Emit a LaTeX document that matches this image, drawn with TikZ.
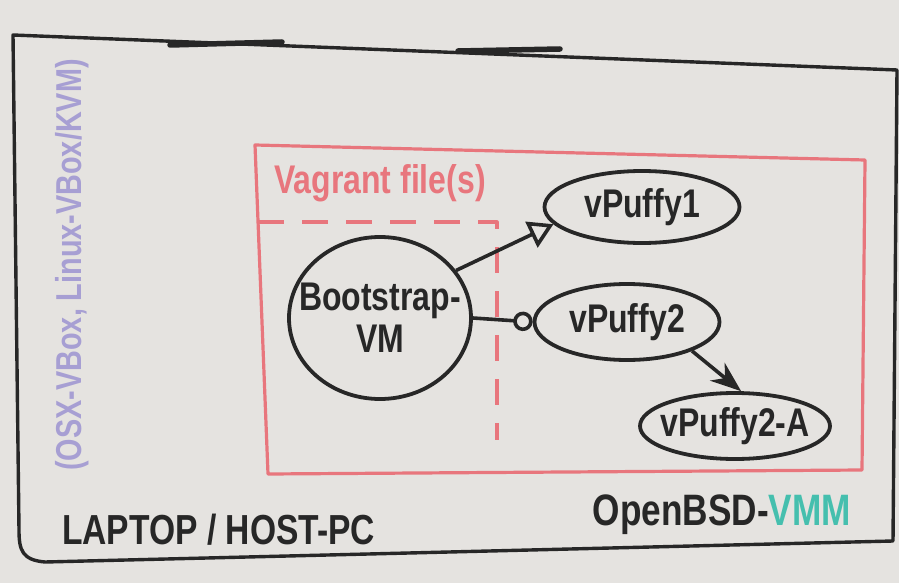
\documentclass[tikz,border=0pt]{standalone}
\usepackage{fontspec}
\newfontfamily\hand[FakeStretch=0.8]{Liberation Sans}
\usepackage{tikz}
\usetikzlibrary{arrows.meta,positioning,calc,shapes.geometric}
\definecolor{board}{HTML}{E5E3E0}
\definecolor{marker}{HTML}{272727}
\definecolor{redmark}{HTML}{E8767D}
\definecolor{purplemark}{HTML}{A79FD3}
\definecolor{tealmark}{HTML}{45BFAE}
\tikzset{
  vm/.style    ={ellipse,draw=marker,line width=3.8pt,inner xsep=-22pt,inner ysep=0pt,text=marker,font=\hand\bfseries\fontsize{40}{42}\selectfont},
  frame/.style ={marker,line width=3.4pt,line join=round,line cap=round},
  vagbox/.style={redmark,line width=3.2pt,line join=round},
  link/.style  ={marker,line width=3.6pt},
  txt/.style   ={inner sep=0pt,font=\hand\bfseries\fontsize{40}{40}\selectfont},
}

\begin{document}
\begin{tikzpicture}[x=1pt,y=-1pt]
  \fill[board](0,0) rectangle (899,583);
  \useasboundingbox (0,0) rectangle (899,583);
  % host laptop
  \draw[frame](13,35)--(897,70)--(893,541)--(45,562) .. controls (22,560) and (19,550) .. (19,530)--cycle;
  \draw[frame,line width=5.5pt](170,45)--(282,42); \draw[frame,line width=5.5pt](458,51)--(560,49);
  \node[txt,rotate=90,text=purplemark,font=\hand\bfseries\fontsize{36}{36}\selectfont](hyp) at (72,265){(OSX-VBox, Linux-VBox/KVM)};
  \node[txt,anchor=west,text=marker,font=\hand\bfseries\fontsize{42}{42}\selectfont](host) at (62,530){LAPTOP / HOST-PC};
  \node[txt,text=marker,font=\hand\bfseries\fontsize{44}{44}\selectfont](obsd) at (722,515){OpenBSD-\textcolor{tealmark}{VMM}};
  % vagrant
  \draw[vagbox](255,145)--(865,160)--(862,470)--(268,474)--cycle;
  \draw[vagbox,dash pattern=on 26pt off 18pt](258,222)--(497,222)--(497,440);
  \node[txt,text=redmark](vag) at (380,183){Vagrant file(s)};
  % vms
  \node[vm,minimum width=182,minimum height=162,align=center](boot) at (380,318){Bootstrap-\\VM};
  \node[vm,minimum width=195,minimum height=72](p1) at (642,207){vPuffy1};
  \node[vm,minimum width=185,minimum height=76](p2) at (627,322){vPuffy2};
  \node[vm,minimum width=190,minimum height=66](p2a) at (735,426){vPuffy2-A};
  \draw[link,-{Triangle[open,scale=1.8]}](boot.32)--(p1.191);
  \draw[link,-{Circle[open,scale=1.4]}](boot.east)--(p2.west);
  \draw[link,-{Stealth[scale=1.6]}](p2.-24)--(p2a.80);
\end{tikzpicture}
\end{document}
